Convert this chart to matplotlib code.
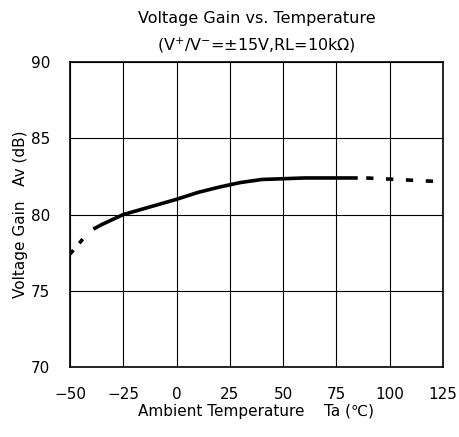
import matplotlib
matplotlib.use('Agg')
import matplotlib.pyplot as plt

temp_solid = [-39, -35, -25, -15, 0, 10, 20, 30, 40, 50, 60, 75, 85]
gain_solid = [79.05, 79.35, 80.0, 80.4, 81.0, 81.45, 81.8, 82.1, 82.3, 82.35, 82.4, 82.4, 82.4]
temp_cold = [-50, -43]
gain_cold = [77.4, 78.55]
temp_hot = [89, 125]
gain_hot = [82.4, 82.15]

x_ticks = [-50, -25, 0, 25, 50, 75, 100, 125]
y_ticks = [70, 75, 80, 85, 90]

fig = plt.figure(figsize=(4.6, 4.37), dpi=100)
ax = fig.add_axes([0.152, 0.160, 0.811, 0.698])

ax.plot(temp_solid, gain_solid, color='black', lw=2.6, solid_capstyle='butt')
ax.plot(temp_cold, gain_cold, color='black', lw=2.6, ls=(0, (1.5, 2.5)))
ax.plot(temp_hot, gain_hot, color='black', lw=2.6, ls=(0, (2.0, 3.5)))

ax.set_xlim(-50, 125)
ax.set_ylim(70, 90)
ax.set_xticks(x_ticks)
ax.set_yticks(y_ticks)
ax.grid(True, color='black', lw=0.8)
ax.tick_params(length=0, labelsize=11)
ax.tick_params(axis='x', pad=14)
ax.tick_params(axis='y', pad=14)
for s in ax.spines.values():
    s.set_linewidth(1.2)

ax.set_xlabel('Ambient Temperature    Ta (\u2103)', fontsize=11, labelpad=2)
ax.set_ylabel('Voltage Gain   Av (dB)', fontsize=11, labelpad=2)
ax.set_title('Voltage Gain vs. Temperature\n(V$^{+}$/V$^{-}$=\u00b115V,RL=10k\u03a9)',
             fontsize=11.5, pad=8, linespacing=1.7)

fig.savefig('out.png', dpi=100)
